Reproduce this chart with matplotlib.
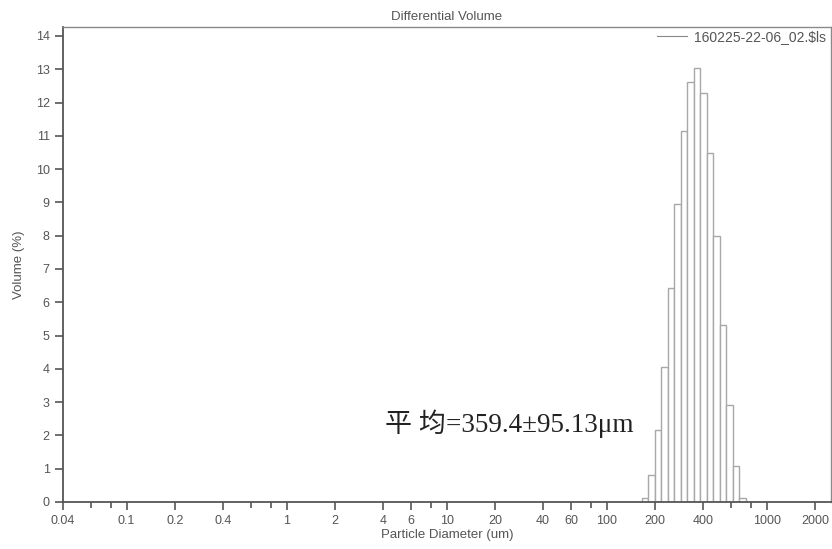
import matplotlib
matplotlib.use("Agg")
import matplotlib.pyplot as plt
import numpy as np
from matplotlib.ticker import FixedLocator, NullFormatter

# ---- data ----
bin_edges = [166.1, 182.3, 200.1, 219.7, 241.2, 264.8, 290.7, 319.1, 350.3,
             384.6, 422.2, 463.5, 508.8, 558.6, 613.3, 673.2, 739.1]
volume_pct = [0.12, 0.82, 2.15, 4.07, 6.44, 8.95, 11.16, 12.61, 13.05,
              12.30, 10.48, 7.99, 5.32, 2.92, 1.08, 0.12]
x_major_ticks = [0.04, 0.1, 0.2, 0.4, 1, 2, 4, 6, 10, 20, 40, 60, 100, 200, 400, 1000, 2000]
x_major_labels = ["0.04", "0.1", "0.2", "0.4", "1", "2", "4", "6", "10", "20", "40", "60",
                  "100", "200", "400", "1000", "2000"]
x_minor_ticks = [0.06, 0.08, 0.6, 0.8, 8, 80, 600, 800]
y_ticks = list(range(0, 15))
legend_label = r"160225-22-06_02.\$ls"
annotation = "平 均=359.4±95.13μm"
title = "Differential Volume"
xlabel = "Particle Diameter (um)"
ylabel = "Volume (%)"

plt.rcParams['font.family'] = ['Liberation Sans', 'DejaVu Sans']
txt = '#555555'

fig = plt.figure(figsize=(8.32, 5.49), dpi=100)
ax = fig.add_axes([63/832, 1-502/549, (831-63)/832, (502-27)/549])

edges = np.array(bin_edges)
ax.bar(edges[:-1], volume_pct, width=np.diff(edges), align='edge',
       facecolor='white', edgecolor='#a8a8a8', linewidth=1.0)

ax.set_xscale('log')
ax.set_xlim(0.04, 2520)
ax.set_ylim(0, 14.27)

ax.xaxis.set_major_locator(FixedLocator(x_major_ticks))
ax.set_xticklabels(x_major_labels)
ax.xaxis.set_minor_locator(FixedLocator(x_minor_ticks))
ax.xaxis.set_minor_formatter(NullFormatter())
ax.set_yticks(y_ticks)

ax.tick_params(axis='both', which='major', direction='out', length=6, width=1.2,
               colors='#555555', labelsize=9, labelcolor=txt)
ax.tick_params(axis='x', which='minor', direction='out', length=4, width=1.2, colors='#555555')

for s in ['left', 'bottom']:
    ax.spines[s].set_color('#555555')
    ax.spines[s].set_linewidth(1.3)
for s in ['top', 'right']:
    ax.spines[s].set_color('#8a8a8a')
    ax.spines[s].set_linewidth(1.0)

ax.set_title(title, fontsize=9.5, color=txt, pad=5)
ax.set_xlabel(xlabel, fontsize=9.5, color=txt, labelpad=1.5)
ax.set_ylabel(ylabel, fontsize=9.5, color=txt, labelpad=8)

ax.plot([], [], color='#888888', linewidth=0.8, label=legend_label)
leg = ax.legend(loc='upper right', bbox_to_anchor=(1.003, 1.008), frameon=False,
                fontsize=10, handlelength=2.2, handletextpad=0.5, borderaxespad=0.1)
for t in leg.get_texts():
    t.set_color(txt)

ax.text(0.419, 0.164, annotation, transform=ax.transAxes, ha='left', va='center',
        fontsize=19.5, color='#222222', family=['Liberation Serif', 'Noto Sans CJK SC'])

fig.savefig('out.png', dpi=100)
